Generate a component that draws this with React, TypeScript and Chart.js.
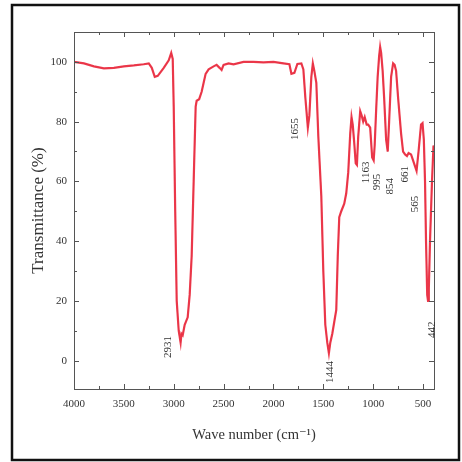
import React, { useEffect, useRef } from "react";
import { Chart, registerables } from "chart.js";

Chart.register(...registerables);

const wavenumbers = [
  4000, 3900, 3800, 3700, 3600, 3500, 3400, 3300, 3250, 3220, 3190, 3160, 3100, 3050, 3025, 3010,
  3000, 2985, 2970, 2950, 2931, 2922, 2910, 2890, 2860, 2840, 2820, 2800, 2780, 2770, 2745, 2720,
  2700, 2680, 2650, 2600, 2570, 2540, 2520, 2500, 2450, 2400, 2300, 2200, 2100, 2000, 1900, 1840,
  1820, 1790, 1760, 1720, 1700, 1680, 1655, 1640, 1620, 1605, 1590, 1570, 1550, 1520, 1500, 1480,
  1460, 1444, 1430, 1410, 1390, 1370, 1355, 1340, 1320, 1290, 1270, 1250, 1230, 1217, 1205, 1190,
  1175, 1163, 1150, 1130, 1115, 1100, 1085, 1065, 1050, 1030, 1010, 995, 985, 970, 955, 940,
  930, 920, 905, 890, 870, 854, 840, 820, 800, 785, 770, 750, 720, 700, 680, 661,
  645, 620, 600, 580, 565, 545, 520, 505, 492, 480, 470, 458, 450, 442, 430, 410, 395,
];

const transmittance = [
  100, 99.5, 98.5, 97.8, 98, 98.5, 98.8, 99.2, 99.5, 98, 95, 95.3, 98, 100.5, 103, 101,
  85, 50, 20, 10, 6, 9, 8.5, 12, 14.5, 22, 35, 60, 85, 87, 87.5, 90,
  93, 96, 97.5, 98.5, 99, 98, 97.3, 99, 99.5, 99.2, 100, 100, 99.8, 100, 99.5, 99.2,
  96, 96.3, 99.3, 99.5, 97.5, 88, 78, 82, 95, 99.5, 97, 93, 75, 55, 30, 12,
  6, 2.5, 6, 9, 13, 17, 35, 48, 50, 52.5, 56, 63, 76, 81.5, 79, 73,
  66, 65.5, 75, 83.5, 82, 80, 81.5, 79, 79, 78, 68, 67, 72, 84, 95, 102,
  105, 103, 97, 88, 74, 70, 80, 95, 99.5, 99, 97, 88, 76, 70, 69, 68.5,
  69.5, 69, 67, 65, 63.5, 70, 79, 79.5, 74, 60, 40, 22, 20, 24, 40, 60, 72,
];

const xTickValues = [4000, 3500, 3000, 2500, 2000, 1500, 1000, 500];
const yTickValues = [0, 20, 40, 60, 80, 100];

const peakLabels = ["2931", "1655", "1444", "1163", "995", "854", "661", "565", "442"];
const peakLabelX = [3058, 1786, 1435, 1074, 964, 834, 683, 583, 413];
const peakLabelY = [4.6, 77.5, -3.8, 63, 59.8, 58.4, 62.4, 52.4, 10.3];

const SERIF = '"Liberation Serif", "Times New Roman", "DejaVu Serif", serif';

const decorPlugin = {
  id: "decor",
  afterDraw(chart: any) {
    const { ctx, chartArea, scales } = chart;
    const xs = scales.x;
    const ys = scales.y;
    const { left, right, top, bottom } = chartArea;
    ctx.save();
    ctx.strokeStyle = "#555";
    ctx.lineWidth = 1;
    ctx.strokeRect(left + 0.5, top + 0.5, right - left, bottom - top);
    ctx.beginPath();
    for (let v = 4000; v >= 400; v -= 250) {
      const px = Math.round(xs.getPixelForValue(v)) + 0.5;
      if (px < left || px > right) continue;
      const len = v % 500 === 0 ? 5 : 3;
      ctx.moveTo(px, bottom);
      ctx.lineTo(px, bottom - len);
      ctx.moveTo(px, top);
      ctx.lineTo(px, top + len);
    }
    for (let v = -10; v <= 110; v += 10) {
      const py = Math.round(ys.getPixelForValue(v)) + 0.5;
      if (py < top || py > bottom) continue;
      const len = v % 20 === 0 ? 5 : 3;
      ctx.moveTo(left, py);
      ctx.lineTo(left + len, py);
      ctx.moveTo(right, py);
      ctx.lineTo(right - len, py);
    }
    ctx.stroke();
    ctx.fillStyle = "#333";
    ctx.font = `11px ${SERIF}`;
    ctx.textAlign = "center";
    ctx.textBaseline = "middle";
    peakLabels.forEach((t, i) => {
      const px = xs.getPixelForValue(peakLabelX[i]);
      const py = ys.getPixelForValue(peakLabelY[i]);
      ctx.save();
      ctx.translate(px, py);
      ctx.rotate(-Math.PI / 2);
      ctx.fillText(t, 0, 0);
      ctx.restore();
    });
    ctx.strokeStyle = "#111";
    ctx.lineWidth = 2.5;
    ctx.strokeRect(12, 5, 447, 455);
    ctx.restore();
  },
};

export default function App() {
  const ref = useRef<HTMLCanvasElement | null>(null);
  useEffect(() => {
    document.body.style.margin = "0";
    const canvas = ref.current;
    if (!canvas) return;
    const points = wavenumbers.map((w, i) => ({ x: w, y: transmittance[i] }));
    const chart = new Chart(canvas, {
      type: "line",
      data: {
        datasets: [
          {
            data: points,
            borderColor: "rgba(236,40,60,0.9)",
            borderWidth: 2.2,
            pointRadius: 0,
            tension: 0,
            fill: false,
          },
          {
            data: points,
            borderColor: "rgba(110,20,30,0.55)",
            borderWidth: 0.8,
            pointRadius: 0,
            tension: 0,
            fill: false,
          },
        ],
      },
      options: {
        responsive: false,
        animation: false,
        parsing: false as any,
        layout: { padding: { left: 14, top: 32, right: 28, bottom: 10 } },
        plugins: { legend: { display: false }, tooltip: { enabled: false } },
        scales: {
          x: {
            type: "linear",
            reverse: true,
            min: 390,
            max: 4000,
            afterBuildTicks: (s: any) => {
              s.ticks = xTickValues.map((v) => ({ value: v }));
            },
            afterFit: (s: any) => {
              s.height = 63;
            },
            grid: { display: false, drawTicks: false },
            border: { display: false },
            ticks: {
              padding: 9,
              maxRotation: 0,
              autoSkip: false,
              color: "#333",
              font: { family: SERIF, size: 11 },
              callback: (v: any) => String(v),
            },
            title: {
              display: true,
              text: "Wave number (cm\u207B\u00B9)",
              color: "#333",
              font: { family: SERIF, size: 14.5 },
              padding: { top: 0, bottom: 8 },
            },
          },
          y: {
            type: "linear",
            min: -9.5,
            max: 110,
            afterBuildTicks: (s: any) => {
              s.ticks = yTickValues.map((v) => ({ value: v }));
            },
            afterFit: (s: any) => {
              s.width = 60;
            },
            grid: { display: false, drawTicks: false },
            border: { display: false },
            ticks: {
              padding: 7,
              autoSkip: false,
              color: "#333",
              font: { family: SERIF, size: 11 },
              callback: (v: any) => String(v),
            },
            title: {
              display: true,
              text: "Transmittance (%)",
              color: "#333",
              font: { family: SERIF, size: 17 },
              padding: { top: 14, bottom: 0 },
            },
          },
        },
      },
      plugins: [decorPlugin],
    });
    return () => chart.destroy();
  }, []);
  return (
    <div style={{ width: 462, height: 462 }}>
      <canvas ref={ref} width={462} height={462} style={{ display: "block" }} />
    </div>
  );
}
